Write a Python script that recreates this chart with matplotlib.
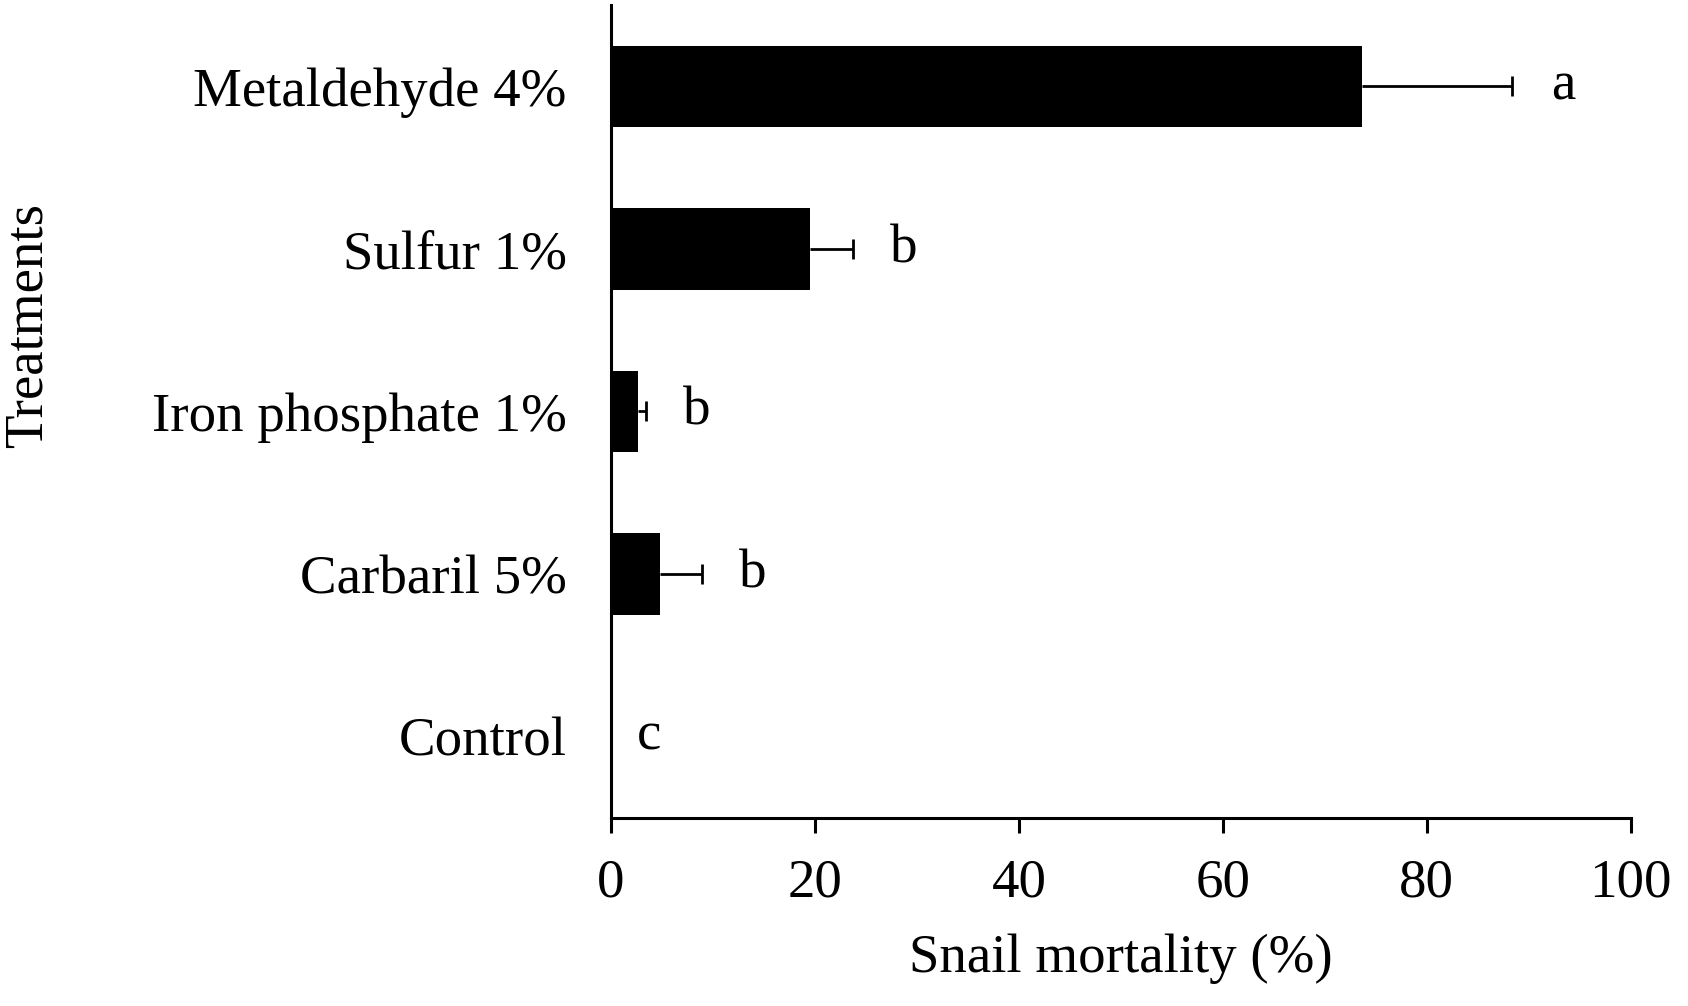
import numpy as np
import matplotlib.pyplot as plt

plt.rcParams['font.family'] = ['Liberation Serif', 'DejaVu Serif']

# Datos (de arriba hacia abajo)
treatments = ["Metaldehyde 4%", "Sulfur 1%", "Iron phosphate 1%", "Carbaril 5%", "Control"]
mortality = [73.7, 19.5, 2.6, 4.8, 0.0]
error = [14.7, 4.2, 0.8, 4.1, 0.0]
letters = ["a", "b", "b", "b", "c"]

y = np.arange(len(treatments))[::-1]
mortality = np.array(mortality)
error = np.array(error)

fs = 39.5

fig = plt.figure(figsize=(16.88, 10.06), dpi=100)
ax = fig.add_axes([0.362, 0.187, 0.604, 0.808])

ax.barh(y, mortality, height=0.5, color="black")

# Barras de error solo hacia la derecha (sin tapa en el extremo de la barra)
mask = error > 0
ax.hlines(y[mask], mortality[mask], mortality[mask] + error[mask],
          colors="black", linewidth=2)
ax.plot(mortality[mask] + error[mask], y[mask], linestyle="none",
        marker="|", markersize=15, markeredgewidth=2, color="black")

# Letras de significancia
for yi, m, e, txt in zip(y, mortality, error, letters):
    ax.text(m + e + 5 if e > 0 else 3.7, yi, txt, fontsize=fs, ha="center", va="center")

ax.set_xlim(0, 100)
ax.set_ylim(-0.5, 4.5)
ax.set_xticks([0, 20, 40, 60, 80, 100])
ax.set_yticks(y)
ax.set_yticklabels(treatments)

for side in ["top", "right"]:
    ax.spines[side].set_visible(False)
for side in ["left", "bottom"]:
    ax.spines[side].set_linewidth(2.2)

ax.tick_params(axis="x", labelsize=fs, length=11, width=2.2, pad=18)
ax.tick_params(axis="y", labelsize=fs, length=0, pad=32)

ax.set_xlabel("Snail mortality (%)", fontsize=fs, labelpad=18)
fig.text(28 / 1688, 1 - 325 / 1006, "Treatments", fontsize=fs,
         rotation=90, ha="center", va="center")

fig.savefig("out.png", dpi=100)
